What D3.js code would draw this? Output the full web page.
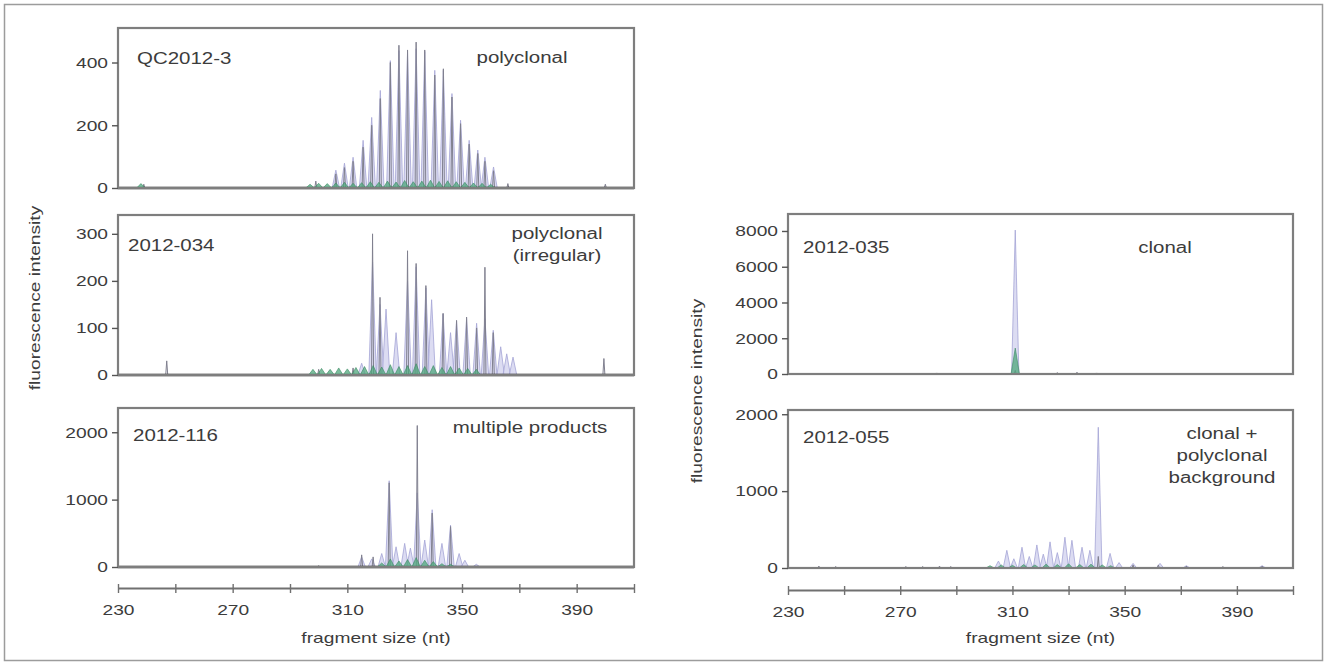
<!DOCTYPE html>
<html>
<head>
<meta charset="utf-8">
<script src="https://cdn.jsdelivr.net/npm/d3@7"></script>
<style>
  body { margin: 0; background: #fff; }
  svg { display: block; }
  text { font-family: "Liberation Sans", Arial, sans-serif; fill: #3c3c3c; }
</style>
</head>
<body>
<svg width="1327" height="664"></svg>
<script>
// fragment size axis
const sizeDomain = [230, 410];
const sizeTicks = [230, 250, 270, 290, 310, 330, 350, 370, 390, 410];
const sizeLabels = [230, 270, 310, 350, 390];

// peaks as [fragment size (nt), fluorescence intensity]
const p1Blue = [[306, 57], [309, 79], [312, 98], [315.5, 152], [318.5, 225], [321.5, 311], [325, 406], [328, 438],
  [331, 435], [334, 444], [337, 435], [340.5, 375], [343.5, 375], [346.5, 301], [349.5, 216], [352.5, 152],
  [355.5, 121], [358, 98], [361, 67]];
const p1Black = [[239, 12], [299, 22], [306, 45], [309, 65], [312, 85], [315.5, 130], [318.5, 200], [321.5, 285],
  [325, 400], [328, 455], [331, 440], [334, 465], [337, 440], [340.5, 360], [343.5, 380], [346.5, 290],
  [349.5, 205], [352.5, 140], [355.5, 110], [358, 85], [361, 55], [366, 14], [400, 12]];
const p1Green = [[238, 14], [297, 12], [300, 15], [303, 14], [306, 16], [309, 18], [312, 15], [315, 17], [318, 20],
  [321, 18], [324, 22], [327, 19], [330, 24], [333, 20], [336, 22], [339, 25], [342, 21], [345, 23],
  [348, 20], [351, 18], [354, 16], [357, 15], [360, 12]];

const p2Blue = [[315, 25], [318.8, 240], [321.4, 150], [323.5, 140], [327, 90], [331, 200], [334, 230],
  [337.4, 185], [339.4, 160], [343.4, 130], [346, 90], [348.1, 115], [351.6, 120], [355.1, 110], [358, 120],
  [360.9, 95], [363.5, 60], [365.6, 45], [367.8, 38]];
const p2Black = [[247, 30], [300, 12], [312, 15], [318.8, 300], [321.4, 165], [331, 264], [334, 237], [337.4, 190],
  [343.4, 131], [348.1, 116], [351.6, 123], [355.1, 100], [358, 229], [360.9, 90], [399.5, 35]];
const p2Green = [[298, 12], [301, 14], [304, 12], [307, 15], [310, 13], [313, 16], [316, 18], [319, 20], [322, 17],
  [325, 22], [328, 18], [331, 20], [334, 24], [337, 18], [340, 20], [343, 16], [346, 18], [349, 15],
  [352, 14], [355, 12]];

const p3Blue = [[315, 150], [318.5, 120], [322, 200], [324.6, 1280], [327, 300], [330, 350], [332, 280],
  [334.4, 1100], [337, 400], [339.6, 850], [343, 350], [346, 620], [349, 200], [351, 100], [355, 40]];
const p3Black = [[240, 15], [260, 12], [300, 20], [315, 180], [319, 150], [324.6, 1250], [334.4, 2100],
  [339.6, 800], [346, 600]];
const p3Green = [[322, 60], [325, 120], [328, 90], [331, 110], [334, 140], [337, 100], [340, 80], [343, 50], [346, 40]];

const p4Blue = [[311, 8050]];
const p4Black = [[283, 60], [311, 200], [326, 80], [333, 100], [340, 60]];
const p4Green = [[311, 1450]];

const p5Blue = [[305, 90], [308, 230], [310.5, 120], [313.4, 270], [316, 150], [318.7, 300], [321, 180],
  [323.4, 340], [326, 200], [328.7, 400], [331.2, 360], [334.8, 270], [337.6, 230], [340.6, 1830],
  [344.8, 190], [348, 70], [353, 60], [362.6, 60], [372, 30], [399, 30]];
const p5Black = [[241, 25], [247, 20], [272, 20], [278, 20], [284, 25], [288, 20], [340.6, 150], [353, 40],
  [362, 40], [372, 25], [385, 20], [399, 25]];
const p5Green = [[302, 30], [306, 40], [310, 35], [314, 45], [318, 40], [322, 50], [326, 45], [330, 55],
  [334, 45], [338, 50], [342, 40], [345, 30]];

const yMax = [510, 340, 2360, 8950, 2055];
const yTicks = [[0, 200, 400], [0, 100, 200, 300], [0, 1000, 2000], [0, 2000, 4000, 6000, 8000], [0, 1000, 2000]];
const sampleNames = ["QC2012-3", "2012-034", "2012-116", "2012-035", "2012-055"];
const sampleNotes = [["polyclonal"], ["polyclonal", "(irregular)"], ["multiple products"], ["clonal"],
  ["clonal +", "polyclonal", "background"]];

const svg = d3.select("svg");
const SX = 1.28;

function label(g, x, y, str, size, anchor, rot) {
  return g.append("text")
    .attr("transform", `translate(${x},${y})${rot ? " rotate(" + rot + ")" : ""} scale(${SX},1)`)
    .attr("text-anchor", anchor || "start")
    .style("font-size", size + "px")
    .text(str);
}

// outer frame
svg.append("rect")
  .attr("x", 4.5).attr("y", 4.5).attr("width", 1318).attr("height", 656)
  .attr("fill", "none").attr("stroke", "#9c9c9c").attr("stroke-width", 1.5);

const layout = [
  { x0: 118, x1: 634, top: 28, bottom: 188, dark: true, nameX: 137, noteX: 522, noteY: 63 },
  { x0: 118, x1: 634, top: 215, bottom: 375, dark: true, nameX: 128, noteX: 557, noteY: 239 },
  { x0: 118, x1: 634, top: 408, bottom: 567, dark: true, nameX: 133, noteX: 530, noteY: 433 },
  { x0: 788, x1: 1293, top: 214, bottom: 374, dark: false, nameX: 803, noteX: 1165, noteY: 253 },
  { x0: 788, x1: 1293, top: 410, bottom: 568, dark: false, nameX: 803, noteX: 1222, noteY: 439 }
];
const nameY = [64, 251, 441, 253, 443];
const blues = [p1Blue, p2Blue, p3Blue, p4Blue, p5Blue];
const blacks = [p1Black, p2Black, p3Black, p4Black, p5Black];
const greens = [p1Green, p2Green, p3Green, p4Green, p5Green];

function peaks(g, data, x, y, hw) {
  return g.selectAll(null).data(data).join("path")
    .attr("d", d => `M${x(d[0] - hw)},${y(0)}L${x(d[0])},${y(d[1])}L${x(d[0] + hw)},${y(0)}Z`);
}

layout.forEach((L, i) => {
  const x = d3.scaleLinear().domain(sizeDomain).range([L.x0, L.x1]);
  const y = d3.scaleLinear().domain([0, yMax[i]]).range([L.bottom, L.top]);
  const g = svg.append("g");

  g.append("clipPath").attr("id", "clip" + i)
    .append("rect").attr("x", L.x0).attr("y", L.top).attr("width", L.x1 - L.x0).attr("height", L.bottom - L.top + 2);
  const plot = g.append("g").attr("clip-path", `url(#clip${i})`);

  peaks(plot, blues[i], x, y, 1.3)
    .attr("fill", "#d6d6f0").attr("fill-opacity", 0.85)
    .attr("stroke", "#a4a4d6").attr("stroke-width", 0.8);
  peaks(plot, blacks[i], x, y, 0.35)
    .attr("fill", "none").attr("stroke", "#80808f").attr("stroke-width", 1);

  plot.append("line")
    .attr("x1", x(sizeDomain[0])).attr("x2", x(sizeDomain[1]))
    .attr("y1", y(0)).attr("y2", y(0))
    .attr("stroke", L.dark ? "#2a2a2a" : "#6a6a6a").attr("stroke-width", L.dark ? 2.6 : 2);

  peaks(plot, greens[i], x, y, 1.5)
    .attr("fill", "#4fa77c").attr("fill-opacity", 0.75)
    .attr("stroke", "#3a8a62").attr("stroke-width", 0.6);

  g.append("rect")
    .attr("x", L.x0).attr("y", L.top).attr("width", L.x1 - L.x0).attr("height", L.bottom - L.top)
    .attr("fill", "none").attr("stroke", "#7e7e7e").attr("stroke-width", 2.2);

  const ax = g.append("g").attr("transform", `translate(${L.x0},0)`)
    .call(d3.axisLeft(y).tickValues(yTicks[i]).tickSize(6).tickSizeOuter(0).tickFormat(d3.format("d")));
  ax.select(".domain").remove();
  ax.selectAll("line").attr("stroke", "#555").attr("stroke-width", 1.4);
  ax.selectAll("text")
    .attr("x", -10 / SX)
    .attr("transform", `scale(${SX},1)`)
    .style("font-size", "15px")
    .style("font-family", '"Liberation Sans", Arial, sans-serif')
    .attr("fill", "#3c3c3c");

  label(g, L.nameX, nameY[i], sampleNames[i], 16, "start");
  sampleNotes[i].forEach((t, k) => label(g, L.noteX, L.noteY + k * 22, t, 16, "middle"));
});

// fragment size axes
const bottomAxes = [{ x0: 118, x1: 634, y: 588 }, { x0: 788, x1: 1293, y: 590 }];
bottomAxes.forEach(B => {
  const x = d3.scaleLinear().domain(sizeDomain).range([B.x0, B.x1]);
  const ax = svg.append("g").attr("transform", `translate(0,${B.y})`)
    .call(d3.axisBottom(x).tickValues(sizeTicks).tickSize(5).tickSizeOuter(0)
      .tickFormat(d => sizeLabels.includes(d) ? d : ""));
  ax.select(".domain").attr("stroke", "#707070").attr("stroke-width", 2);
  ax.selectAll("line").attr("y1", -4).attr("y2", 5).attr("stroke", "#707070").attr("stroke-width", 1.4);
  ax.selectAll("text")
    .attr("y", 16)
    .attr("transform", `scale(${SX},1)`)
    .style("font-size", "15px")
    .style("font-family", '"Liberation Sans", Arial, sans-serif')
    .attr("fill", "#3c3c3c");
  label(svg, (B.x0 + B.x1) / 2, 643, "fragment size (nt)", 15, "middle");
});

label(svg, 40, 298, "fluorescence intensity", 15, "middle", -90);
label(svg, 702, 391, "fluorescence intensity", 15, "middle", -90);
</script>
</body>
</html>
